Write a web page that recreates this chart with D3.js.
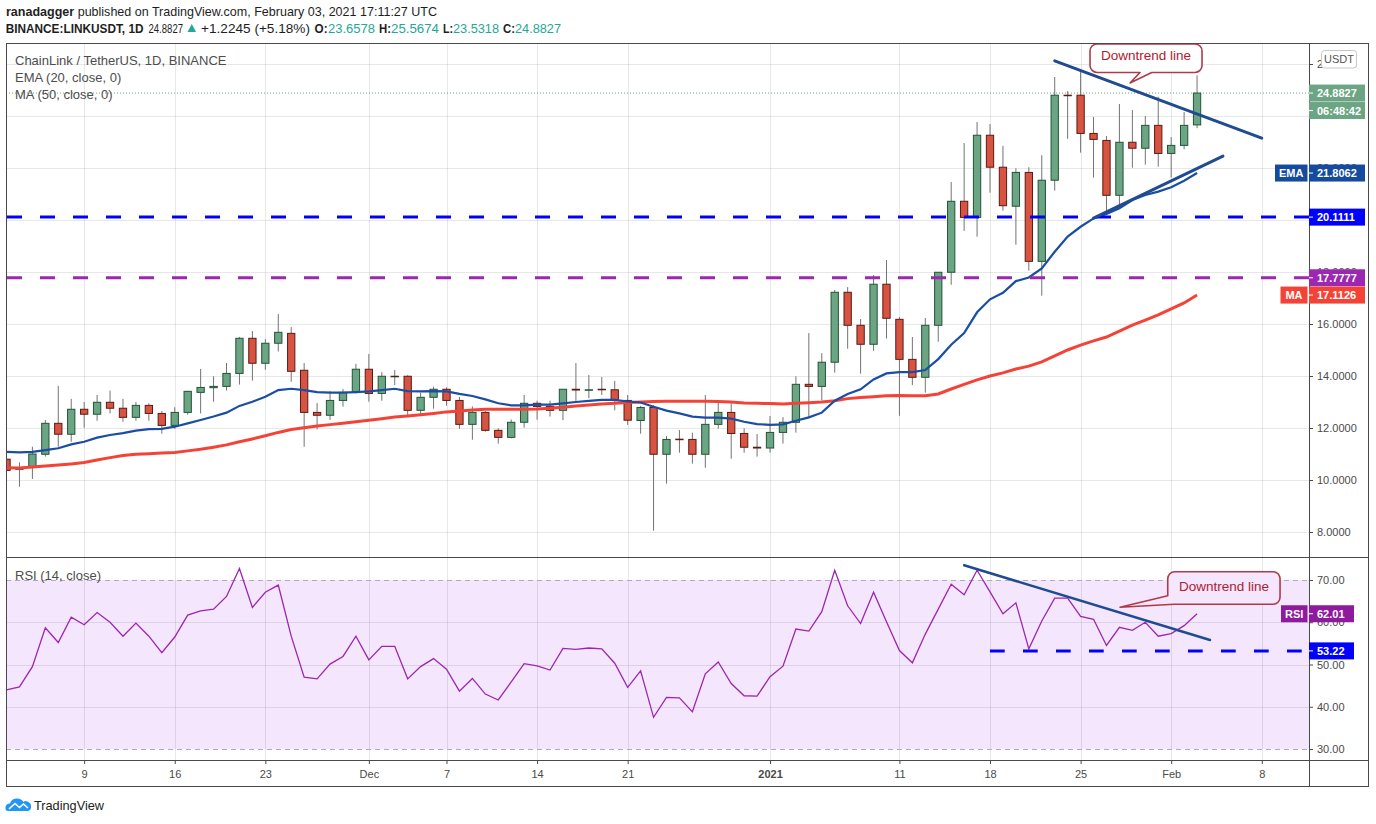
<!DOCTYPE html>
<html><head><meta charset="utf-8">
<script src="https://cdn.jsdelivr.net/npm/d3@7"></script>
<style>
html,body{margin:0;padding:0;background:#fff;}
svg{display:block;font-family:"Liberation Sans",Arial,sans-serif;}
</style></head><body>
<svg id="chart" width="1376" height="824"></svg>
<script>
// ---------------- DATA ----------------
const firstDay = "2020-11-03";
const open = [10.80,10.41,10.49,10.99,12.18,11.76,12.72,12.53,12.99,12.76,12.41,12.87,12.56,12.10,12.60,13.37,13.55,13.60,14.10,15.45,14.49,15.26,15.64,14.22,12.60,12.49,13.06,13.37,
14.26,13.33,13.99,13.99,12.68,13.18,13.49,13.06,12.14,12.60,11.91,11.64,12.22,12.95,12.83,12.68,13.49,13.46,13.49,13.47,13.06,12.29,12.79,10.99,11.57,11.56,10.99,12.14,12.60,11.79,11.26,
11.23,11.83,12.22,13.68,13.60,14.53,17.22,15.95,15.22,17.53,16.18,14.64,13.95,15.95,17.99,20.72,20.10,23.26,22.03,20.53,21.83,18.41,21.53,24.80,24.80,23.33,23.06,20.95,22.99,22.76,23.64,
22.56,22.87,23.6578];
const high = [10.95,10.68,11.28,12.31,13.62,13.12,13.00,13.27,13.44,13.12,13.00,12.95,12.65,12.80,13.43,14.27,13.99,14.50,15.50,15.73,15.42,16.38,15.88,14.50,12.96,13.42,13.50,14.47,
14.85,14.15,14.23,14.03,13.36,13.59,13.56,13.19,12.83,12.65,11.99,12.33,13.27,13.05,13.05,13.49,14.50,14.04,13.96,13.81,13.27,12.85,12.88,11.69,11.92,11.82,13.27,12.99,13.00,11.99,11.77,
12.46,12.42,13.99,15.65,14.88,17.31,17.42,16.19,17.88,18.46,16.27,15.50,16.23,18.00,21.46,22.96,23.77,23.69,22.85,21.99,22.03,22.49,25.50,24.96,25.74,23.96,23.23,24.46,24.23,24.00,24.74,
23.19,24.15,25.5674];
const low = [10.30,9.74,10.04,10.90,11.28,11.47,12.01,12.28,12.56,12.24,12.28,12.28,11.78,11.97,12.51,12.56,13.01,13.44,13.67,13.82,14.24,14.94,13.78,11.28,11.95,12.31,12.82,13.33,
13.01,13.05,13.65,12.50,12.49,12.74,12.86,11.97,11.55,11.86,11.40,11.60,12.01,12.32,12.44,12.30,13.04,13.15,13.27,12.68,12.12,11.78,8.05,9.86,11.05,10.63,10.47,11.97,10.82,11.05,10.90,
11.05,11.40,11.82,12.40,13.06,14.13,15.05,14.09,14.97,15.44,12.47,13.65,13.36,15.32,17.51,19.58,19.36,21.05,20.36,19.05,18.05,17.09,21.13,23.12,22.59,21.63,20.32,20.58,22.01,22.13,22.05,
21.63,22.72,23.5318];
const close = [10.37,10.47,11.00,12.18,11.76,12.72,12.53,12.99,12.76,12.41,12.87,12.56,12.10,12.60,13.41,13.56,13.60,14.10,15.45,14.49,15.26,15.68,14.18,12.60,12.49,13.06,13.37,14.26,
13.33,13.99,13.98,12.68,13.18,13.49,13.06,12.14,12.60,11.91,11.64,12.22,12.95,12.83,12.68,13.49,13.46,13.47,13.47,13.06,12.30,12.79,10.99,11.56,11.55,10.99,12.14,12.60,11.79,11.26,11.23,
11.83,12.22,13.68,13.60,14.53,17.22,15.95,15.22,17.53,16.22,14.64,13.95,15.95,17.99,20.72,20.10,23.26,22.03,20.55,21.83,18.41,21.53,24.80,24.78,23.33,23.10,20.95,22.99,22.76,23.64,22.56,
22.87,23.64,24.8827];
const ema20 = [11.08,11.06,11.08,11.15,11.22,11.37,11.47,11.63,11.73,11.80,11.90,11.96,11.97,12.05,12.18,12.31,12.44,12.59,12.85,13.01,13.20,13.46,13.51,13.46,13.38,13.36,13.36,13.38,
13.41,13.46,13.51,13.42,13.41,13.42,13.41,13.31,13.23,13.10,12.95,12.87,12.87,12.90,12.90,12.95,13.00,13.04,13.08,13.08,13.02,12.98,12.82,12.67,12.56,12.44,12.40,12.40,12.36,12.24,12.15,
12.12,12.14,12.28,12.41,12.59,13.05,13.31,13.49,13.87,14.10,14.15,14.15,14.23,14.65,15.20,15.65,16.45,16.95,17.20,17.65,17.79,18.14,18.78,19.36,19.74,20.06,20.23,20.45,20.77,20.96,21.09,
21.26,21.51,21.8062];
const ma50 = [10.47,10.46,10.50,10.54,10.58,10.62,10.67,10.77,10.86,10.94,10.99,11.01,11.04,11.06,11.12,11.18,11.26,11.35,11.47,11.58,11.70,11.83,11.94,12.01,12.08,12.13,12.18,12.24,
12.30,12.36,12.42,12.46,12.51,12.56,12.62,12.65,12.69,12.72,12.72,12.72,12.72,12.73,12.76,12.80,12.85,12.88,12.92,12.95,12.98,13.00,13.02,13.03,13.03,13.03,13.03,13.02,13.00,12.96,12.95,
12.94,12.92,12.95,12.97,13.00,13.05,13.13,13.17,13.20,13.24,13.25,13.24,13.24,13.31,13.50,13.68,13.85,14.00,14.12,14.27,14.38,14.54,14.77,15.00,15.19,15.35,15.50,15.73,15.96,16.15,16.35,
16.58,16.81,17.1126];
const rsi14 = [44.0,44.7,49.5,58.7,55.2,61.2,59.4,62.3,60.0,56.7,59.8,56.7,52.8,56.5,61.7,62.7,63.1,66.1,72.7,63.5,67.1,68.8,56.7,47.0,46.6,50.1,51.9,56.7,
51.1,54.3,54.3,46.6,49.5,51.4,48.9,43.7,46.7,43.0,41.6,45.9,50.2,49.7,48.7,53.8,53.6,53.9,53.7,50.3,44.6,48.5,37.5,42.2,42.1,38.8,47.8,50.6,45.5,42.6,42.5,
47.1,49.6,58.4,57.9,62.5,72.3,63.9,59.7,67.1,60.1,53.3,50.4,57.2,63.1,69.0,66.5,72.3,67.2,62.0,64.6,53.7,60.3,65.7,65.7,61.4,60.7,54.5,58.8,58.1,60.0,56.7,
57.3,59.2,62.01];
const priceTicks = [8,10,12,14,16,18,20,22,24,26];
const hiddenPriceLabels = [20,24];   // fully covered by the level / last-price tags in the reference
const rsiTicks = [30,40,50,60,70];
const dateTicks = ["2020-11-09","2020-11-16","2020-11-23","2020-12-01","2020-12-07","2020-12-14","2020-12-21","2021-01-01","2021-01-11","2021-01-18","2021-01-25","2021-02-01","2021-02-08"];
const dateTickLabels = ["9","16","23","Dec","7","14","21","2021","11","18","25","Feb","8"];
const levelSupport = 20.1111, levelPurple = 17.7777, rsiSupport = 53.22;
const trendMain = [["2021-01-23",26.12],["2021-02-08",23.15]];
const trendSupport = [["2021-01-26",20.07],["2021-02-05",22.46]];
const trendRsi = [["2021-01-16",73.5],["2021-02-04",55.8]];
const rsiSupportStart = "2021-01-18";
const calloutMainTip = ["2021-01-28T19:40:00Z",25.27];
const calloutRsiTip = ["2021-01-28T01:10:00Z",63.54];

// ---------------- LAYOUT ----------------
const svg = d3.select("#chart");
const L=6, R=1309, AX=1369, mainTop=43, mainBot=557, rsiBot=760, axBot=787;
const dayMs = 864e5, jan1 = Date.UTC(2021,0,1);
const x = d3.scaleUtc().domain([new Date(jan1-59.04*dayMs), new Date(jan1+41.65*dayMs)]).range([L,R]);
const y = d3.scaleLinear().domain([8,26]).range([532,64]);
const yr = d3.scaleLinear().domain([30,70]).range([749,580]);
const start = new Date(firstDay+"T00:00:00Z");
const dates = close.map((_,i)=>d3.utcDay.offset(start,i));
const pd = s => new Date(s.length>10 ? s : s+"T00:00:00Z");

const defs = svg.append("defs");
defs.append("clipPath").attr("id","clipMain").append("rect").attr("x",L).attr("y",mainTop).attr("width",R-L).attr("height",mainBot-mainTop);
defs.append("clipPath").attr("id","clipRsi").append("rect").attr("x",L).attr("y",mainBot).attr("width",R-L).attr("height",rsiBot-mainBot);

// header
const hdr = svg.append("g").attr("fill","#1e1e1e").attr("font-size",13);
const h1 = hdr.append("text").attr("x",6).attr("y",15.5).attr("textLength",431).attr("lengthAdjust","spacingAndGlyphs");
h1.append("tspan").attr("font-weight","bold").text("ranadagger");
h1.append("tspan").text(" published on TradingView.com, February 03, 2021 17:11:27 UTC");
const teal = "#26a69a";
const segs = [
 ["BINANCE:LINKUSDT, 1D",5.7,137.8,"bold","#1e1e1e"],
 ["24.8827",148.5,34.5,"normal","#1e1e1e"],
 ["+1.2245 (+5.18%)",201,109,"normal","#1e1e1e"],
 ["O:",314.6,13,"bold","#1e1e1e"],["23.6578",328,47,"normal",teal],
 ["H:",379,12,"bold","#1e1e1e"],["25.5674",391,48,"normal",teal],
 ["L:",443,10,"bold","#1e1e1e"],["23.5318",453,46,"normal",teal],
 ["C:",503,12,"bold","#1e1e1e"],["24.8827",515,46,"normal",teal]];
segs.forEach(s=>hdr.append("text").attr("x",s[1]).attr("y",32.5).attr("textLength",s[2]).attr("lengthAdjust","spacingAndGlyphs")
  .attr("font-weight",s[3]).attr("fill",s[4]).text(s[0]));
hdr.append("path").attr("d","M187.5,32 L196,32 L191.75,24 Z").attr("fill",teal);

// RSI band
svg.append("rect").attr("x",L).attr("y",yr(70)).attr("width",R-L).attr("height",yr(30)-yr(70)).attr("fill","#f3e6fd");

// grid
const grid = svg.append("g").attr("stroke","rgba(0,0,0,0.09)").attr("stroke-width",1);
dateTicks.forEach(d=>{ const xx=Math.round(x(pd(d)))+0.5;
  grid.append("line").attr("x1",xx).attr("x2",xx).attr("y1",mainTop).attr("y2",rsiBot); });
priceTicks.forEach(p=>{ const yy=Math.round(y(p))+0.5; if(yy>mainTop && yy<mainBot)
  grid.append("line").attr("x1",L).attr("x2",R).attr("y1",yy).attr("y2",yy); });
[40,50,60].forEach(v=>{ const yy=Math.round(yr(v))+0.5;
  grid.append("line").attr("x1",L).attr("x2",R).attr("y1",yy).attr("y2",yy); });
[30,70].forEach(v=>{ const yy=Math.round(yr(v))+0.5;
  svg.append("line").attr("x1",L).attr("x2",R).attr("y1",yy).attr("y2",yy).attr("stroke","#b3a9b8").attr("stroke-dasharray","5,4"); });

// main pane
const main = svg.append("g").attr("clip-path","url(#clipMain)");
main.append("line").attr("x1",L).attr("x2",R).attr("y1",y(close[close.length-1])).attr("y2",y(close[close.length-1]))
  .attr("stroke","#6ba583").attr("stroke-dasharray","1,2");
const cg = main.append("g");
dates.forEach((d,i)=>{
  const cx = x(d), up = close[i]>=open[i];
  cg.append("line").attr("x1",cx).attr("x2",cx).attr("y1",y(high[i])).attr("y2",y(low[i])).attr("stroke","#737375").attr("stroke-width",1);
  const y0=Math.min(y(open[i]),y(close[i])), h=Math.max(0.5,Math.abs(y(open[i])-y(close[i])));
  cg.append("rect").attr("x",cx-3.65).attr("width",7.3).attr("y",y0).attr("height",h)
    .attr("fill",up?"#6ba583":"#d75442").attr("stroke",up?"#225437":"#5b1a13").attr("stroke-width",1);
});
main.append("path").datum(ma50).attr("fill","none").attr("stroke","#f44336").attr("stroke-width",3)
  .attr("d",d3.line().x((v,i)=>x(dates[i])).y(v=>y(v)));
main.append("path").datum(ema20).attr("fill","none").attr("stroke","#1a4da3").attr("stroke-width",2.2)
  .attr("d",d3.line().x((v,i)=>x(dates[i])).y(v=>y(v)));
main.append("line").attr("x1",7).attr("x2",R).attr("y1",y(levelSupport)).attr("y2",y(levelSupport))
  .attr("stroke","#0000ff").attr("stroke-width",3).attr("stroke-dasharray","15,18");
main.append("line").attr("x1",7).attr("x2",R).attr("y1",y(levelPurple)).attr("y2",y(levelPurple))
  .attr("stroke","#9c27b0").attr("stroke-width",3).attr("stroke-dasharray","15,18");
[trendMain,trendSupport].forEach(t=>main.append("line")
  .attr("x1",x(pd(t[0][0]))).attr("y1",y(t[0][1])).attr("x2",x(pd(t[1][0]))).attr("y2",y(t[1][1]))
  .attr("stroke","#1f4b91").attr("stroke-width",3).attr("stroke-linecap","round"));

function callout(g, tx, ty, box, fill, textPos){
  const p = d3.path(), r=7;
  const {x0,x1,y0,y1} = box;
  p.moveTo(x0+r,y0); p.lineTo(x1-r,y0); p.arcTo(x1,y0,x1,y0+r,r); p.lineTo(x1,y1-r); p.arcTo(x1,y1,x1-r,y1,r);
  if(box.type==="bottom"){
    p.lineTo(box.tR,y1); p.lineTo(tx,ty); p.lineTo(box.tL,y1); p.lineTo(x0+r,y1); p.arcTo(x0,y1,x0,y1-r,r);
  } else {
    p.lineTo(box.tB,y1); p.lineTo(tx,ty); p.lineTo(x0,box.tA);
  }
  p.lineTo(x0,y0+r); p.arcTo(x0,y0,x0+r,y0,r); p.closePath();
  g.append("path").attr("d",p.toString()).attr("fill",fill).attr("stroke","#b23a44").attr("stroke-width",1.6).attr("stroke-linejoin","round");
  g.append("text").attr("x",textPos[0]).attr("y",textPos[1]).attr("text-anchor","middle").attr("font-size",13.5)
    .attr("fill","#b0202e").text("Downtrend line");
}
{
  const tx=x(pd(calloutMainTip[0])), ty=y(calloutMainTip[1]);
  callout(main, tx, ty, {x0:tx-40,x1:tx+72,y0:ty-39,y1:ty-10.5,type:"bottom",tL:tx+10,tR:tx+21.7}, "#ffffff", [tx+16,ty-22.5]);
}

// RSI pane
const rp = svg.append("g").attr("clip-path","url(#clipRsi)");
rp.append("path").datum(rsi14).attr("fill","none").attr("stroke","#9b27af").attr("stroke-width",1.3)
  .attr("d",d3.line().x((v,i)=>x(dates[i])).y(v=>yr(v)));
rp.append("line").attr("x1",x(pd(rsiSupportStart))).attr("x2",R).attr("y1",yr(rsiSupport)).attr("y2",yr(rsiSupport))
  .attr("stroke","#0000ff").attr("stroke-width",3).attr("stroke-dasharray","14.7,18.3");
rp.append("line").attr("x1",x(pd(trendRsi[0][0]))).attr("y1",yr(trendRsi[0][1])).attr("x2",x(pd(trendRsi[1][0]))).attr("y2",yr(trendRsi[1][1]))
  .attr("stroke","#1f4b91").attr("stroke-width",2.5).attr("stroke-linecap","round");
{
  const tx=x(pd(calloutRsiTip[0])), ty=yr(calloutRsiTip[1]);
  callout(rp, tx, ty, {x0:tx+47.7,x1:tx+160,y0:ty-35.6,y1:ty-3,type:"side",tB:tx+54,tA:ty-11.6}, "#f3e6fd", [tx+104,ty-16]);
}

// legends
const lg = svg.append("g").attr("fill","#4d4d4d").attr("font-size",13);
lg.append("text").attr("x",15).attr("y",65).text("ChainLink / TetherUS, 1D, BINANCE");
lg.append("text").attr("x",15).attr("y",82).text("EMA (20, close, 0)");
lg.append("text").attr("x",15).attr("y",99).text("MA (50, close, 0)");
lg.append("text").attr("x",15).attr("y",579.5).text("RSI (14, close)");

// axes
const axStyle = g => { g.select(".domain").remove(); g.selectAll("line").attr("stroke","#4a4a4a");
  g.selectAll("text").attr("fill","#4a4a4a").attr("font-size",11).attr("font-family","Liberation Sans, Arial, sans-serif"); };
svg.append("g").attr("transform",`translate(${R},0)`)
  .call(d3.axisRight(y).tickValues(priceTicks).tickFormat(v=>hiddenPriceLabels.includes(v)?"":d3.format(".4f")(v)).tickSize(4).tickPadding(4)).call(axStyle);
svg.append("g").attr("transform",`translate(${R},0)`)
  .call(d3.axisRight(yr).tickValues(rsiTicks).tickFormat(d3.format(".2f")).tickSize(4).tickPadding(4)).call(axStyle);
const xa = svg.append("g").attr("transform",`translate(0,${rsiBot})`)
  .call(d3.axisBottom(x).tickValues(dateTicks.map(pd)).tickFormat((d,i)=>dateTickLabels[i]).tickSize(4).tickPadding(6)).call(axStyle);
xa.selectAll("text").attr("font-weight",(d,i)=>dateTickLabels[i]==="2021"?"bold":"normal");

// frame
const fr = svg.append("g").attr("stroke","#4a4a4a").attr("stroke-width",1).attr("fill","none");
fr.append("rect").attr("x",L+0.5).attr("y",mainTop+0.5).attr("width",AX-L-1).attr("height",axBot-mainTop-1);
fr.append("line").attr("x1",R+0.5).attr("x2",R+0.5).attr("y1",mainTop).attr("y2",axBot);
fr.append("line").attr("x1",L).attr("x2",AX).attr("y1",mainBot+0.5).attr("y2",mainBot+0.5);
fr.append("line").attr("x1",L).attr("x2",AX).attr("y1",rsiBot+0.5).attr("y2",rsiBot+0.5);

function axisLabel(yy, text, color, w, name, nameW){
  const g = svg.append("g");
  g.append("rect").attr("x",R).attr("y",yy-8.5).attr("width",w).attr("height",17).attr("fill",color);
  g.append("line").attr("x1",R).attr("x2",R+4).attr("y1",yy).attr("y2",yy).attr("stroke","#fff");
  g.append("text").attr("x",R+8).attr("y",yy+4).attr("fill","#fff").attr("font-size",11).attr("font-weight","bold").text(text);
  if(name){
    g.append("rect").attr("x",R-1.5-nameW).attr("y",yy-8.5).attr("width",nameW).attr("height",17).attr("fill",color);
    g.append("text").attr("x",R-1.5-nameW/2).attr("y",yy+4).attr("text-anchor","middle").attr("fill","#fff").attr("font-size",11).attr("font-weight","bold").text(name);
  }
}
const last = close[close.length-1];
axisLabel(y(last), d3.format(".4f")(last), "#6ba583", 56);
axisLabel(y(last)+17.5, "06:48:42", "#6ba583", 56);
axisLabel(y(ema20[ema20.length-1]), d3.format(".4f")(ema20[ema20.length-1]), "#154a9c", 56, "EMA", 32.5);
axisLabel(y(levelSupport), d3.format(".4f")(levelSupport), "#0000ff", 56);
axisLabel(y(levelPurple), d3.format(".4f")(levelPurple), "#9c27b0", 56);
axisLabel(y(ma50[ma50.length-1]), d3.format(".4f")(ma50[ma50.length-1]), "#f44336", 56, "MA", 27);
axisLabel(yr(rsi14[rsi14.length-1]), d3.format(".2f")(rsi14[rsi14.length-1]), "#8e1a9e", 45, "RSI", 26.5);
axisLabel(yr(rsiSupport), d3.format(".2f")(rsiSupport), "#0000ff", 45);

svg.append("rect").attr("x",1321.5).attr("y",50.5).attr("width",35).attr("height",17.5).attr("rx",3)
  .attr("fill","#fff").attr("stroke","#c8c8c8");
svg.append("text").attr("x",1339).attr("y",63).attr("text-anchor","middle").attr("font-size",11).attr("fill","#555").text("USDT");

const logo = svg.append("g");
logo.append("path").attr("d","M8,811 Q5,811 5.5,807 Q6,803.5 10,803.5 Q11.5,798.5 17,798.5 Q21.5,798.5 23.5,802 Q25,800.5 27.5,801.5 Q31.5,803 31,807 Q31,811 27,811 Z").attr("fill","#2196f3");
logo.append("path").attr("d","M9,809 L15,803.5 L19.5,807.5 L23.5,804 L28,808").attr("fill","none").attr("stroke","#fff").attr("stroke-width",1.6);
logo.append("text").attr("x",34).attr("y",809.5).attr("font-size",13.5).attr("fill","#222").attr("textLength",70).attr("lengthAdjust","spacingAndGlyphs").text("TradingView");
</script>
</body></html>
